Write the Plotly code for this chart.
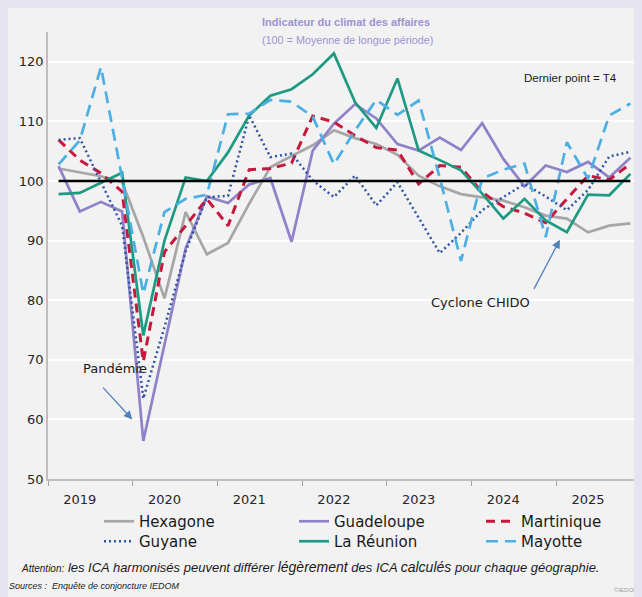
import plotly.graph_objects as go

quarters = [f"{y}T{q}" for y in range(2019, 2026) for q in range(1, 5)]
years = ["2019", "2020", "2021", "2022", "2023", "2024", "2025"]

hexagone = [102.1, 101.5, 100.8, 99.8, 90.6, 80.3, 94.8, 87.7, 89.6, 96.2, 102.3, 104.2, 106.0, 108.5,
            107.2, 106.2, 104.4, 100.9, 99.1, 97.8, 97.3, 96.7, 95.6, 94.2, 93.7, 91.4, 92.5, 92.9]
guadeloupe = [102.5, 94.9, 96.5, 94.9, 56.4, 72.5, 88.7, 97.4, 96.3, 99.4, 100.5, 89.8, 105.1, 109.6,
              112.9, 110.5, 106.2, 105.1, 107.3, 105.2, 109.7, 103.7, 99.1, 102.6, 101.5, 103.2, 100.6, 103.9]
martinique = [106.9, 103.5, 101.3, 98.2, 69.7, 88.1, 92.5, 97.0, 92.5, 101.9, 102.1, 103.0, 110.9, 109.9,
              107.6, 105.6, 105.2, 99.5, 102.6, 102.3, 98.1, 95.7, 94.6, 93.0, 97.0, 100.9, 100.2, 102.9]
guyane = [106.9, 107.2, 99.8, 92.5, 63.5, 75.5, 88.2, 97.3, 97.5, 111.0, 104.0, 104.6, 100.1, 97.3,
          100.9, 95.9, 99.8, 93.9, 87.9, 91.3, 95.1, 97.3, 99.5, 97.4, 95.1, 98.5, 104.1, 104.9]
reunion = [97.8, 98.0, 99.7, 101.4, 74.1, 90.0, 100.6, 100.0, 104.8, 111.0, 114.3, 115.4, 117.9, 121.4,
           113.2, 108.9, 117.2, 105.1, 103.5, 101.8, 97.9, 93.7, 97.0, 93.4, 91.4, 97.7, 97.6, 101.2]
mayotte = [102.8, 106.8, 119.1, 100.5, 81.1, 94.8, 97.0, 97.7, 111.2, 111.3, 113.6, 113.3, 110.8, 102.8,
           108.5, 113.6, 111.1, 113.5, 100.5, 86.6, 100.4, 101.9, 102.9, 90.6, 106.5, 100.4, 111.0, 113.0]
reference_level = 100

x = list(range(len(quarters)))

# page offset of the browser body margin
OFF = 8
FIG_W, FIG_H = 642 - OFF, 597 - OFF
L, T, W, H = 40, 24, 593, 447


def px_x(p):  # screen pixel -> paper x
    return (p - OFF - L) / W


def px_y(p):  # screen pixel -> paper y
    return (T + H - (p - OFF)) / H


FONT = "DejaVu Sans"

# name, values, colour, dash, width, legend id, legend text x (screen), legend row centre (screen)
series = [
    ("Hexagone", hexagone, "#A6A6A6", "solid", 2.7, "legend", 140, 521),
    ("Guadeloupe", guadeloupe, "#9181C9", "solid", 2.7, "legend2", 335, 521),
    ("Martinique", martinique, "#C8173D", "9px,6px", 3, "legend3", 522, 521),
    ("Guyane", guyane, "#2E54A3", "2px,3px", 2.5, "legend4", 140, 541),
    ("La Réunion", reunion, "#1F9A82", "solid", 2.7, "legend5", 335, 541),
    ("Mayotte", mayotte, "#4BAFE3", "12px,7px", 2.7, "legend6", 522, 541),
]

fig = go.Figure()
legends = {}
for name, vals, color, dash, w, lg, tx, ty in series:
    fig.add_trace(go.Scatter(x=x, y=vals, mode="lines", name=name, legend=lg,
                             line=dict(color=color, width=w, dash=dash)))
    legends[lg] = dict(orientation="v", x=px_x(tx - 41), xanchor="left", y=px_y(ty - 16), yanchor="top",
                       font=dict(family=FONT, size=15, color="#1a1a1a"),
                       bgcolor="rgba(0,0,0,0)", tracegroupgap=0, itemwidth=30)

fig.update_layout(
    width=FIG_W, height=FIG_H,
    margin=dict(l=L, r=FIG_W - L - W, t=T, b=FIG_H - T - H),
    paper_bgcolor="#F2F2F2",
    plot_bgcolor="#F2F2F2",
    font=dict(family=FONT, color="#262626"),
    showlegend=True,
    **legends,
)

tick_pos = [1 + 4 * k for k in range(len(years))]
fig.update_xaxes(
    range=[-0.5, len(quarters) - 0.5],
    tickmode="array", tickvals=tick_pos, ticktext=years,
    ticks="outside", ticklen=8, tickcolor="rgba(0,0,0,0)",
    tickfont=dict(family=FONT, size=13, color="#262626"),
    showgrid=False, zeroline=False,
    showline=True, linecolor="#BFBFBF", linewidth=1.5,
    minor=dict(tickmode="array", tickvals=[-0.5 + 4 * k for k in range(len(years) + 1)],
               ticks="outside", ticklen=5, tickcolor="#A0A0A0", tickwidth=1, showgrid=False),
)
fig.update_yaxes(
    range=[50, 125], tickmode="array", tickvals=[50, 60, 70, 80, 90, 100, 110, 120],
    tickfont=dict(family=FONT, size=13, color="#262626"),
    showgrid=True, gridcolor="#FFFFFF", gridwidth=2, zeroline=False,
    showline=True, linecolor="#BFBFBF", linewidth=1.5, ticks="",
)

# reference line 100
fig.add_shape(type="line", xref="x", yref="y", x0=0, x1=len(quarters) - 1,
              y0=reference_level, y1=reference_level, line=dict(color="black", width=2.5))

ann = []
ann.append(dict(xref="paper", yref="paper", x=px_x(346), y=px_y(22), xanchor="center", yanchor="middle",
                showarrow=False, text="<b>Indicateur du climat des affaires</b>",
                font=dict(family="Liberation Sans, Arial, sans-serif", size=11, color="#9C92D2")))
ann.append(dict(xref="paper", yref="paper", x=px_x(347), y=px_y(40), xanchor="center", yanchor="middle",
                showarrow=False, text="(100 = Moyenne de longue période)",
                font=dict(family="Liberation Sans, Arial, sans-serif", size=10.8, color="#9C92D2")))
ann.append(dict(xref="x", yref="y", x=24.15, y=117.2, showarrow=False, text="Dernier point = T4",
                font=dict(family="Liberation Sans, Arial, sans-serif", size=11.5, color="#1a1a1a")))
ann.append(dict(xref="x", yref="y", x=19.94, y=79.65, showarrow=False, text="Cyclone CHIDO",
                font=dict(family=FONT, size=13, color="#1a1a1a")))
ann.append(dict(xref="x", yref="y", x=2.66, y=68.6, showarrow=False, text="Pandémie",
                font=dict(family=FONT, size=13, color="#1a1a1a")))
ann.append(dict(xref="x", yref="y", x=23.67, y=90.15, ax=-26.7, ay=50.7, showarrow=True,
                arrowhead=2, arrowsize=1.3, arrowwidth=1.3, arrowcolor="#4F81BD", text=""))
ann.append(dict(xref="x", yref="y", x=3.48, y=60.0, ax=-30.6, ay=-33.3, showarrow=True,
                arrowhead=2, arrowsize=1.3, arrowwidth=1.3, arrowcolor="#4F81BD", text=""))
note = ("<i><span style='font-size:10px'>Attention:</span> les ICA harmonisés peuvent différer "
        "<span style='font-size:14px'>légèrement</span> des ICA <span style='font-size:14px'>calculés</span>"
        " pour chaque géographie.</i>")
ann.append(dict(xref="paper", yref="paper", x=px_x(19), xanchor="left", y=px_y(567), yanchor="middle",
                showarrow=False, text=note,
                font=dict(family="Liberation Sans, sans-serif", size=13, color="#1a1a1a")))
ann.append(dict(xref="paper", yref="paper", x=px_x(7), xanchor="left", y=px_y(586), yanchor="middle",
                showarrow=False, text="<i>Sources :  Enquête de conjoncture IEDOM</i>",
                font=dict(family="Liberation Sans, sans-serif", size=9, color="#1a1a1a")))
ann.append(dict(xref="paper", yref="paper", x=px_x(640), xanchor="right", y=px_y(590), yanchor="middle",
                showarrow=False, text="©IEDOM",
                font=dict(family="Liberation Sans, sans-serif", size=6, color="#9a9a9a")))
fig.update_layout(annotations=ann)

fig.write_html("out.html",
               post_script="document.body.style.backgroundColor='#E6E4F1';")
